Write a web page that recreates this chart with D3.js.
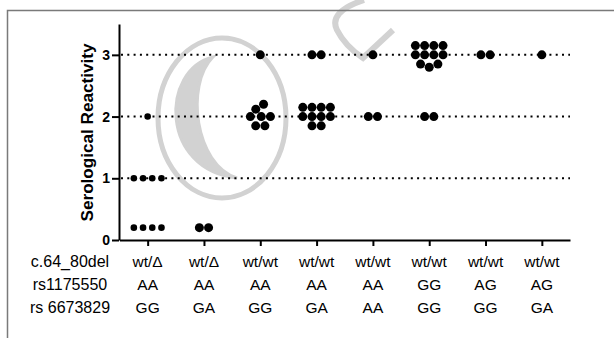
<!DOCTYPE html>
<html>
<head>
<meta charset="utf-8">
<script src="https://cdn.jsdelivr.net/npm/d3@7"></script>
<style>
  body { margin: 0; background: #fff; }
  svg { display: block; font-family: "Liberation Sans", Arial, sans-serif; }
</style>
</head>
<body>
<script>
'use strict';

var width = 614,
    height = 338;

// genotype rows under the x axis
var rowLabels = ["c.64_80del", "rs1175550", "rs 6673829"];
var delGenotype = ["wt/\u0394", "wt/\u0394", "wt/wt", "wt/wt", "wt/wt", "wt/wt", "wt/wt", "wt/wt"];
var rs1175550 = ["AA", "AA", "AA", "AA", "AA", "GG", "AG", "AG"];
var rs6673829 = ["GG", "GA", "GG", "GA", "AA", "GG", "GG", "GA"];

// serological reactivity per genotype group
var delAA_GG = [2, 1, 1, 1, 1, 0.2, 0.2, 0.2, 0.2];
var delAA_GA = [0.2, 0.2];
var wtAA_GG = [3, 2.2, 2.12, 2, 2, 2, 1.85, 1.85];
var wtAA_GA = [3, 3, 2.15, 2.15, 2.15, 2.15, 2, 2, 2, 2, 1.85, 1.85];
var wtAA_AA = [3, 2, 2];
var wtGG_GG = [3.15, 3.15, 3.15, 3.15, 3, 3, 3, 3, 2.85, 2.85, 2.8, 2, 2];
var wtAG_GG = [3, 3];
var wtAG_GA = [3];

var yTicks = [0, 1, 2, 3];
var gridValues = [1, 2, 3];

var groups = [delAA_GG, delAA_GA, wtAA_GG, wtAA_GA, wtAA_AA, wtGG_GG, wtAG_GG, wtAG_GA];
var rowTexts = [delGenotype, rs1175550, rs6673829];

var svg = d3.select("body").append("svg")
    .attr("width", width)
    .attr("height", height);

var x = d3.scalePoint()
    .domain(d3.range(groups.length))
    .range([119.5, 570])
    .padding(0.5);

var y = d3.scaleLinear()
    .domain([0, 3.5])
    .range([240, 24]);

// watermark (light grey copyright sign)
var wm = svg.append("g")
    .attr("fill", "none")
    .attr("stroke", "#d2d2d2");

wm.append("ellipse")
    .attr("cx", 222).attr("cy", 118)
    .attr("rx", 64).attr("ry", 80)
    .attr("stroke-width", 5);

wm.append("path")
    .attr("d", "M213,57 C160,70 160,170 237,178 C195,165 185,85 213,57 Z")
    .attr("fill", "#d2d2d2")
    .attr("stroke-width", 3);

wm.append("path")
    .attr("d", "M364,0 Q328,12 337,30 Q345,46 363,58 Q378,44 393,30")
    .attr("stroke-width", 6);

// frame
svg.append("path")
    .attr("d", "M7.5," + height + "V10.5H" + width)
    .attr("fill", "none")
    .attr("stroke", "#7a7a7a")
    .attr("stroke-width", 1.5);

// dotted reference lines
svg.append("g")
    .selectAll("line")
    .data(gridValues)
    .enter().append("line")
        .attr("x1", 121)
        .attr("x2", 570)
        .attr("y1", function(d) { return y(d); })
        .attr("y2", function(d) { return y(d); })
        .attr("stroke", "#000")
        .attr("stroke-width", 2)
        .attr("stroke-dasharray", "2,4.3");

// scatter points, spread sideways like a dot plot
var nodes = [];
groups.forEach(function(vals, g) {
    vals.forEach(function(v, i) {
        nodes.push({ g: g, v: v, x: x(g) + (i - (vals.length - 1) / 2) * 0.1, fy: y(v) });
    });
});

var simulation = d3.forceSimulation(nodes)
    .force("x", d3.forceX(function(d) { return x(d.g); }).strength(0.06))
    .force("collide", d3.forceCollide(4.6).iterations(3))
    .stop();

for (var i = 0; i < 300; i++) simulation.tick();

svg.append("g")
    .selectAll("circle")
    .data(nodes)
    .enter().append("circle")
        .attr("cx", function(d) { return d.x; })
        .attr("cy", function(d) { return d.fy; })
        .attr("r", function(d) { return d.g === 0 ? 3.3 : 4.5; })
        .attr("fill", "#000");

// axes
var yAxis = svg.append("g")
    .attr("transform", "translate(119,0)")
    .call(d3.axisLeft(y)
        .tickValues(yTicks)
        .tickSize(7)
        .tickSizeOuter(0)
        .tickPadding(2)
        .tickFormat(d3.format("d")));

var xAxis = svg.append("g")
    .attr("transform", "translate(0,240)")
    .call(d3.axisBottom(x)
        .tickSize(6)
        .tickSizeOuter(0)
        .tickFormat(""));

svg.selectAll(".domain, .tick line")
    .attr("stroke", "#000")
    .attr("stroke-width", 2);

yAxis.selectAll("text")
    .attr("fill", "#000")
    .style("font-family", "Liberation Sans, Arial, sans-serif")
    .style("font-size", "14px")
    .style("font-weight", "bold");

svg.append("text")
    .attr("transform", "translate(93,132.5) rotate(-90)")
    .attr("text-anchor", "middle")
    .attr("textLength", 178)
    .attr("lengthAdjust", "spacingAndGlyphs")
    .style("font-size", "16px")
    .style("font-weight", "bold")
    .text("Serological Reactivity");

// genotype table
var rowY = [266.5, 289.5, 313];

svg.append("g")
    .selectAll("text")
    .data(rowLabels)
    .enter().append("text")
        .attr("x", 70)
        .attr("y", function(d, i) { return rowY[i]; })
        .attr("text-anchor", "middle")
        .style("font-size", "16px")
        .text(function(d) { return d; });

rowTexts.forEach(function(row, r) {
    svg.append("g")
        .selectAll("text")
        .data(row)
        .enter().append("text")
            .attr("x", function(d, i) { return x(i); })
            .attr("y", rowY[r])
            .attr("text-anchor", "middle")
            .style("font-size", "15.5px")
            .text(function(d) { return d; });
});
</script>
</body>
</html>
